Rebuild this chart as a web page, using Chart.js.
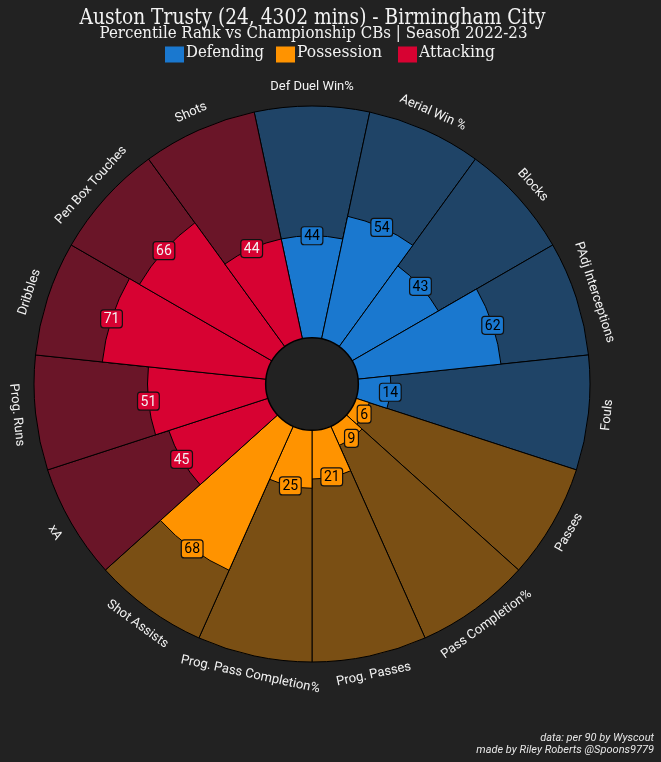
<!DOCTYPE html>
<html>
<head>
<meta charset="utf-8">
<script src="https://cdn.jsdelivr.net/npm/chart.js@4/dist/chart.umd.min.js"></script>
<style>
  html, body { margin: 0; padding: 0; background: #222222; }
  #wrap { width: 661px; height: 762px; }
</style>
</head>
<body>
<div id="wrap"><canvas id="pizza" width="661" height="762"></canvas></div>
<script>
// --- data ---
const params = ['Def Duel Win%', 'Aerial Win %', 'Blocks', 'PAdj Interceptions', 'Fouls',
                'Passes', 'Pass Completion%', 'Prog. Passes', 'Prog. Pass Completion%', 'Shot Assists',
                'xA', 'Prog. Runs', 'Dribbles', 'Pen Box Touches', 'Shots'];
const values = [44, 54, 43, 62, 14, 6, 9, 21, 25, 68, 45, 51, 71, 66, 44];
const groupOf = ['Defending', 'Defending', 'Defending', 'Defending', 'Defending',
                 'Possession', 'Possession', 'Possession', 'Possession', 'Possession',
                 'Attacking', 'Attacking', 'Attacking', 'Attacking', 'Attacking'];
const groups = ['Defending', 'Possession', 'Attacking'];
const fullScale = params.map(() => 100);

const sliceColor = { Defending: '#1A78CF', Possession: '#FF9300', Attacking: '#D70232' };
const backColor = { Defending: '#1F4467', Possession: '#7A4F14', Attacking: '#6A1528' };
const valueText = { Defending: '#000000', Possession: '#000000', Attacking: '#F2F2F2' };

function roundBox(ctx, x, y, w, h, r) {
    ctx.beginPath();
    ctx.moveTo(x + r, y);
    ctx.lineTo(x + w - r, y);
    ctx.quadraticCurveTo(x + w, y, x + w, y + r);
    ctx.lineTo(x + w, y + h - r);
    ctx.quadraticCurveTo(x + w, y + h, x + w - r, y + h);
    ctx.lineTo(x + r, y + h);
    ctx.quadraticCurveTo(x, y + h, x, y + h - r);
    ctx.lineTo(x, y + r);
    ctx.quadraticCurveTo(x, y, x + r, y);
    ctx.closePath();
}

// centre hole, parameter names, value boxes, header and footer
const pizzaText = {
    id: 'pizzaText',
    afterDatasetsDraw(chart) {
        const ctx = chart.ctx;
        const scale = chart.scales.r;
        const cx = scale.xCenter, cy = scale.yCenter;

        ctx.save();
        ctx.beginPath();
        ctx.arc(cx, cy, scale.getDistanceFromCenterForValue(0), 0, Math.PI * 2);
        ctx.fillStyle = '#222222';
        ctx.fill();
        ctx.lineWidth = 1.5;
        ctx.strokeStyle = '#000000';
        ctx.stroke();

        const labelR = scale.getDistanceFromCenterForValue(100) + 19;
        const meta = chart.getDatasetMeta(0);
        ctx.textAlign = 'center';
        ctx.textBaseline = 'middle';
        meta.data.forEach((arc, i) => {
            const mid = (arc.startAngle + arc.endAngle) / 2;
            let theta = (mid + Math.PI / 2) % (Math.PI * 2);
            if (theta < 0) theta += Math.PI * 2;
            let rot = theta;
            if (theta > Math.PI / 2 && theta < Math.PI * 1.5) rot += Math.PI;

            // parameter name
            ctx.save();
            ctx.translate(cx + Math.cos(mid) * labelR, cy + Math.sin(mid) * labelR);
            ctx.rotate(rot);
            ctx.font = '13px Roboto';
            ctx.fillStyle = '#F2F2F2';
            ctx.fillText(params[i], 0, 0);
            ctx.restore();

            // value box
            const g = groupOf[i];
            const bx = cx + Math.cos(mid) * arc.outerRadius;
            const by = cy + Math.sin(mid) * arc.outerRadius;
            ctx.font = '14px Roboto';
            const txt = String(values[i]);
            const w = ctx.measureText(txt).width + 6;
            const h = 18;
            roundBox(ctx, bx - w / 2, by - h / 2, w, h, 3);
            ctx.fillStyle = sliceColor[g];
            ctx.fill();
            ctx.lineWidth = 1.2;
            ctx.strokeStyle = '#111111';
            ctx.stroke();
            ctx.fillStyle = valueText[g];
            ctx.fillText(txt, bx, by + 1);
        });

        // header
        ctx.textBaseline = 'alphabetic';
        ctx.fillStyle = '#F2F2F2';
        ctx.font = '22px "DejaVu Serif"';
        ctx.fillText('Auston Trusty (24, 4302 mins) - Birmingham City', 312.5, 24, 466);
        ctx.font = '16px "DejaVu Serif"';
        ctx.fillText('Percentile Rank vs Championship CBs | Season 2022-23', 313.5, 37.5, 428);

        // legend
        const legendX = [165, 276, 398];
        const legendW = [78, 85, 76];
        ctx.textAlign = 'left';
        ctx.font = '17px "DejaVu Serif"';
        groups.forEach((g, k) => {
            ctx.fillStyle = sliceColor[g];
            ctx.fillRect(legendX[k], 46.5, 19, 16);
            ctx.fillStyle = '#F2F2F2';
            ctx.fillText(g, legendX[k] + 21, 57, legendW[k]);
        });

        // footer
        ctx.textAlign = 'right';
        ctx.font = 'italic 11px Roboto';
        ctx.fillStyle = '#E6E6E6';
        ctx.fillText('data: per 90 by Wyscout', 654, 740.5);
        ctx.fillText('made by Riley Roberts @Spoons9779', 654, 753);
        ctx.restore();
    }
};

new Chart(document.getElementById('pizza'), {
    type: 'polarArea',
    data: {
        labels: params,
        datasets: [
            {
                label: 'Percentile',
                data: values,
                backgroundColor: groupOf.map(g => sliceColor[g]),
                borderColor: '#000000',
                borderWidth: 1
            },
            {
                label: 'Max',
                data: fullScale,
                backgroundColor: groupOf.map(g => backColor[g]),
                borderColor: '#000000',
                borderWidth: 1
            }
        ]
    },
    options: {
        responsive: false,
        animation: false,
        devicePixelRatio: 1,
        layout: { padding: { left: 34, top: 106, right: 71, bottom: 100 } },
        scales: {
            r: {
                min: -20,
                max: 100,
                startAngle: -12,
                grid: { display: false },
                angleLines: { display: false },
                ticks: { display: false },
                pointLabels: { display: false }
            }
        },
        plugins: {
            legend: { display: false },
            tooltip: { enabled: false }
        }
    },
    plugins: [pizzaText]
});
</script>
</body>
</html>
